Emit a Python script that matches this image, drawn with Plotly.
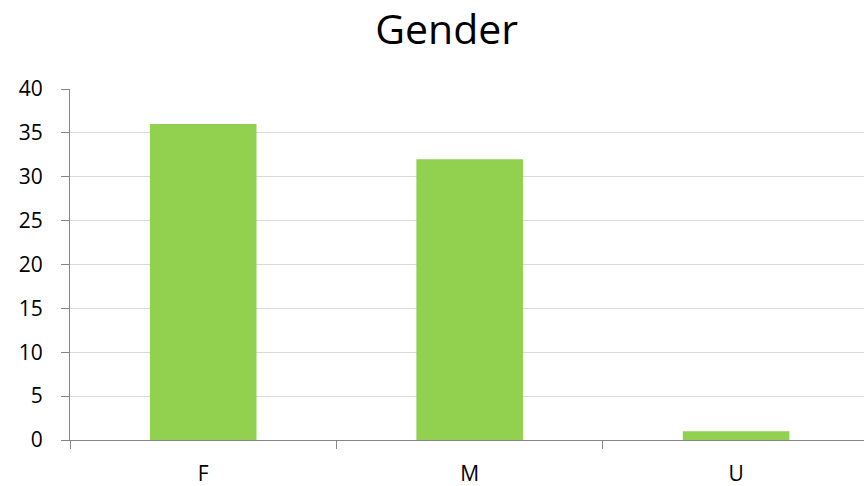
import plotly.graph_objects as go

# data
categories = ["F", "M", "U"]
counts = [36, 32, 1]
y_ticks = [0, 5, 10, 15, 20, 25, 30, 35, 40]

fig = go.Figure()

fig.add_trace(go.Bar(
    x=categories,
    y=counts,
    marker=dict(color="#92d050", line=dict(width=0)),
    width=0.4,
    showlegend=False
))

fig.update_layout(
    width=864,
    height=486,
    margin=dict(l=70, r=0, t=89, b=46),
    paper_bgcolor="white",
    plot_bgcolor="white",
    font=dict(family="Open Sans", color="#000000", size=21),
    title=dict(
        text="Gender",
        x=0.517,
        xanchor="center",
        y=0.94,
        yanchor="middle",
        font=dict(family="Open Sans", size=41, color="#000000")
    ),
    bargap=0.6
)

fig.update_xaxes(
    range=[-0.5, 2.48],
    tickson="boundaries",
    ticks="outside",
    ticklen=8,
    tickcolor="#868686",
    showline=True,
    linecolor="#868686",
    linewidth=1,
    showgrid=False,
    automargin=False,
    ticklabelstandoff=15
)

fig.update_yaxes(
    range=[0, 40],
    tickvals=y_ticks,
    ticks="outside",
    ticklen=8,
    tickcolor="#868686",
    showline=True,
    linecolor="#868686",
    linewidth=1,
    showgrid=True,
    gridcolor="#d9d9d9",
    gridwidth=1,
    zeroline=False,
    automargin=False,
    ticklabelstandoff=14
)

# drop the default page margin so the figure sits at the window's corner
fig.write_html("out.html", config={"displayModeBar": False},
               post_script="document.body.style.margin='0';")
